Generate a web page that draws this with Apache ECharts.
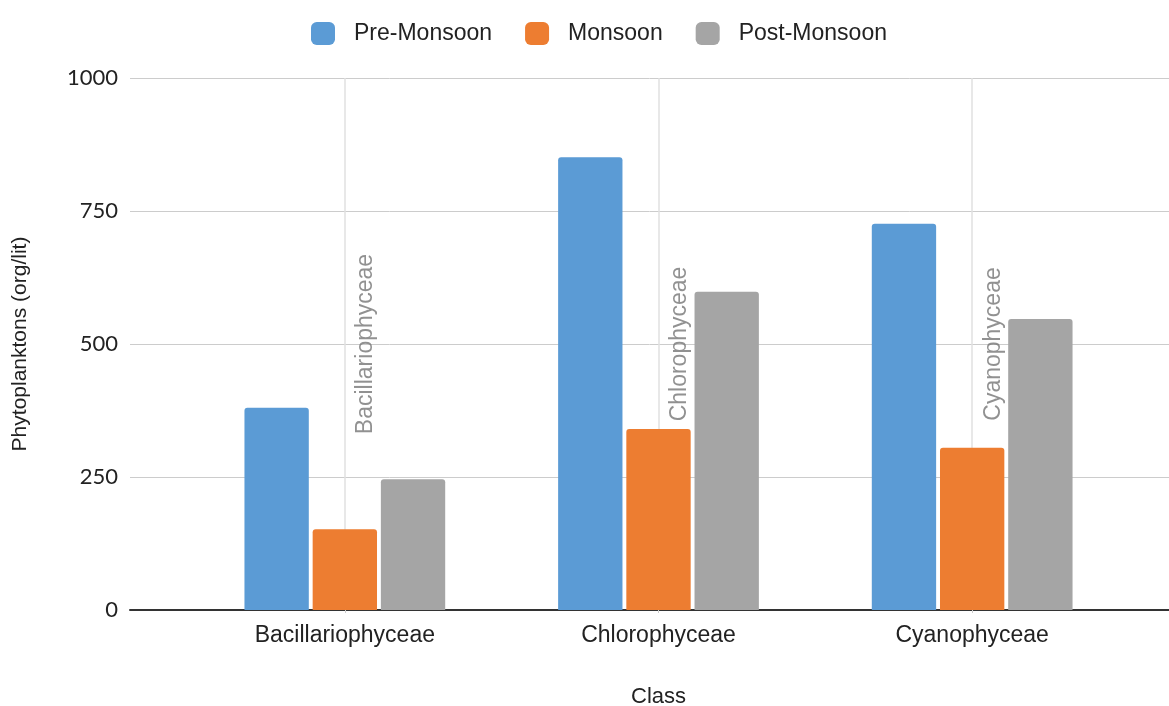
<!DOCTYPE html>
<html>
<head>
	<meta charset="utf-8" />
	<title>Phytoplanktons by class</title>
	<script src="https://cdn.jsdelivr.net/npm/echarts@6/dist/echarts.min.js"></script>
	<style>
		html, body { margin: 0; padding: 0; background: #fff; }
		#chart { width: 1169px; height: 706px; }
	</style>
</head>
<body>
	<div id="chart"></div>
	<script type="text/javascript">
		const classes = ['Bacillariophyceae', 'Chlorophyceae', 'Cyanophyceae'];
		const seasons = ['Pre-Monsoon', 'Monsoon', 'Post-Monsoon'];
		const preMonsoon = [380, 851, 726];
		const monsoon = [152, 340, 305];
		const postMonsoon = [246, 598, 547];
		// rotated class names sit at this value inside each group
		const labelLevel = [500, 500, 500];
		const yTicks = { min: 0, max: 1000, step: 250 };

		const colors = ['#5b9bd5', '#ed7d31', '#a5a5a5'];
		const txt = 'Liberation Sans, Arial, sans-serif';

		const chart = echarts.init(document.getElementById('chart'));

		const barSeries = [preMonsoon, monsoon, postMonsoon].map(function (vals, i) {
			return {
				name: seasons[i],
				type: 'bar',
				xAxisIndex: 1,
				yAxisIndex: 1,
				z: 3,
				barGap: '6%',
				barCategoryGap: '36%',
				itemStyle: { color: colors[i], borderRadius: [3, 3, 0, 0] },
				data: vals
			};
		});

		const option = {
			animation: false,
			legend: {
				data: seasons,
				top: 17,
				left: 306,
				itemWidth: 24,
				itemHeight: 23,
				itemGap: 33,
				icon: 'roundRect',
				textStyle: { fontFamily: txt, fontSize: 23, color: '#222', padding: [0, 0, 0, 14] }
			},
			grid: [
				{ left: 130, right: 0, top: 78, bottom: 96, outerBoundsMode: 'none', containLabel: false },
				{ left: 188, right: 40, top: 78, bottom: 96, outerBoundsMode: 'none', containLabel: false }
			],
			xAxis: [{
				gridIndex: 0,
				type: 'value',
				min: 0,
				max: 1,
				axisLine: { show: true, onZero: false, lineStyle: { color: '#333', width: 2 } },
				axisTick: { show: false },
				axisLabel: { show: false },
				splitLine: { show: false }
			}, {
				gridIndex: 1,
				type: 'category',
				data: classes,
				name: 'Class',
				nameLocation: 'middle',
				nameGap: 76,
				nameTextStyle: { fontFamily: txt, fontSize: 22, color: '#222' },
				axisLine: { show: false },
				axisTick: { show: true, alignWithLabel: true, length: 3, lineStyle: { color: '#ccc' } },
				axisLabel: { fontFamily: txt, fontSize: 23, color: '#222', margin: 14 }
			}],
			yAxis: [{
				gridIndex: 0,
				type: 'value',
				min: yTicks.min,
				max: yTicks.max,
				interval: yTicks.step,
				name: 'Phytoplanktons (org/lit)',
				nameLocation: 'middle',
				nameGap: 99,
				nameTextStyle: { fontFamily: txt, fontSize: 21, color: '#222' },
				axisLine: { show: false },
				axisTick: { show: false },
				axisLabel: {
					fontFamily: 'Lato, sans-serif', fontSize: 22, color: '#222', margin: 12,
					formatter: function (v) { return String(v); }
				},
				splitLine: { lineStyle: { color: '#cccccc', width: 1 } }
			}, {
				gridIndex: 1,
				type: 'value',
				min: yTicks.min,
				max: yTicks.max,
				interval: yTicks.step,
				show: false,
				splitLine: { show: false }
			}],
			series: barSeries.concat([{
				name: 'classLabels',
				type: 'scatter',
				xAxisIndex: 1,
				yAxisIndex: 1,
				z: 1,
				silent: true,
				symbolSize: 0,
				label: {
					show: true,
					position: 'inside',
					rotate: 90,
					offset: [0, 21],
					formatter: '{b}',
					fontFamily: txt,
					fontSize: 23,
					color: '#757575'
				},
				markLine: {
					silent: true,
					z: 1,
					symbol: ['none', 'none'],
					label: { show: false },
					lineStyle: { color: '#e0e0e0', type: 'solid', width: 1.5 },
					data: classes.map(function (c) { return { xAxis: c }; })
				},
				data: classes.map(function (c, i) { return { name: c, value: [c, labelLevel[i]] }; })
			}])
		};

		chart.setOption(option);
	</script>
</body>
</html>
